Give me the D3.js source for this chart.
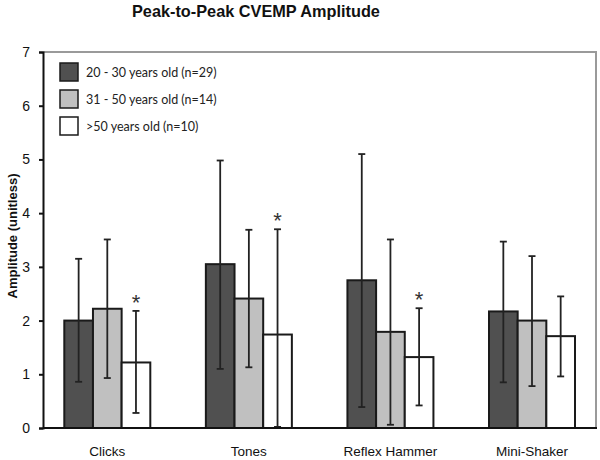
<!DOCTYPE html>
<html><head><meta charset="utf-8">
<script src="https://cdn.jsdelivr.net/npm/d3@7"></script>
<style>body{margin:0;background:#fff}svg{display:block}</style>
</head><body>
<script>
const categories = ["Clicks", "Tones", "Reflex Hammer", "Mini-Shaker"];
const seriesNames = ["20 - 30 years old (n=29)", "31 - 50 years old (n=14)", ">50 years old (n=10)"];
const means20 = [2.00, 3.05, 2.75, 2.17];
const means31 = [2.22, 2.41, 1.79, 2.00];
const means50 = [1.22, 1.74, 1.32, 1.71];
const low20 = [0.86, 1.10, 0.39, 0.85];
const high20 = [3.15, 4.98, 5.10, 3.47];
const low31 = [0.93, 1.13, 0.06, 0.78];
const high31 = [3.51, 3.69, 3.51, 3.20];
const low50 = [0.28, 0.02, 0.42, 0.96];
const high50 = [2.18, 3.70, 2.23, 2.45];
const significant50 = [true, true, true, false];
const yTicks = [0, 1, 2, 3, 4, 5, 6, 7];
const colors = ["#505050", "#c0c0c0", "#ffffff"];

const means = [means20, means31, means50];
const lows = [low20, low31, low50];
const highs = [high20, high31, high50];

const W = 600, H = 460;
const svg = d3.select("body").append("svg").attr("width", W).attr("height", H);

const y = d3.scaleLinear().domain([0, 7]).range([428, 52]);
const x = d3.scalePoint().domain(categories).range([107.3, 532]);
const xs = d3.scaleBand().domain(d3.range(3)).range([-43, 43]);

// frame (top and right)
svg.append("path").attr("d", `M43,${y(7)}H596V${y(0)}`).attr("fill", "none")
  .attr("stroke", "#9a9a9a").attr("stroke-width", 2);

// title
svg.append("text").attr("x", 132).attr("y", 17).attr("font-family", "Liberation Sans, Arial, sans-serif")
  .attr("font-weight", "bold").attr("font-size", 16.3).attr("fill", "#111").text("Peak-to-Peak CVEMP Amplitude");

// y axis
const ya = svg.append("g").attr("transform", "translate(43,0)")
  .call(d3.axisLeft(y).tickValues(yTicks).tickSize(4).tickPadding(9).tickFormat(d3.format("d")));
ya.select(".domain").attr("stroke", "#111").attr("stroke-width", 2);
ya.selectAll(".tick line").attr("stroke", "#111").attr("stroke-width", 2);
ya.selectAll(".tick text").attr("font-family", "Liberation Sans, Arial, sans-serif").attr("font-size", 14).attr("fill", "#111");

svg.append("text").attr("transform", "translate(17,236) rotate(-90)").attr("text-anchor", "middle")
  .attr("font-family", "Liberation Sans, Arial, sans-serif").attr("font-weight", "bold").attr("font-size", 13)
  .attr("fill", "#111").text("Amplitude (unitless)");

// bars
categories.forEach((c, i) => {
  const g = svg.append("g").attr("transform", `translate(${x(c)},0)`);
  for (let s = 0; s < 3; s++) {
    g.append("rect").attr("x", xs(s)).attr("width", xs.bandwidth())
      .attr("y", y(means[s][i])).attr("height", y(0) - y(means[s][i]))
      .attr("fill", colors[s]).attr("stroke", "#1a1a1a").attr("stroke-width", 2);
  }
  for (let s = 0; s < 3; s++) {
    const cx = xs(s) + xs.bandwidth() / 2;
    const e = g.append("g").attr("stroke", "#222").attr("stroke-width", 1.8);
    e.append("line").attr("x1", cx).attr("x2", cx).attr("y1", y(lows[s][i])).attr("y2", y(highs[s][i]));
    e.append("line").attr("x1", cx - 3.5).attr("x2", cx + 3.5).attr("y1", y(lows[s][i])).attr("y2", y(lows[s][i]));
    e.append("line").attr("x1", cx - 3.5).attr("x2", cx + 3.5).attr("y1", y(highs[s][i])).attr("y2", y(highs[s][i]));
  }
  if (significant50[i]) {
    const cx = xs(2) + xs.bandwidth() / 2;
    g.append("text").attr("x", cx).attr("y", y(high50[i]) - 1).attr("text-anchor", "middle")
      .attr("font-family", "Liberation Sans, Arial, sans-serif").attr("font-size", 22).attr("fill", "#333").text("*");
  }
});

// x axis
svg.append("line").attr("x1", 43).attr("x2", 597).attr("y1", y(0)).attr("y2", y(0))
  .attr("stroke", "#111").attr("stroke-width", 2);
svg.append("g").selectAll("text").data(categories).join("text")
  .attr("x", d => x(d)).attr("y", 456).attr("text-anchor", "middle")
  .attr("font-family", "Liberation Sans, Arial, sans-serif").attr("font-size", 13.5).attr("fill", "#111").text(d => d);

// legend
const lg = svg.append("g");
seriesNames.forEach((n, s) => {
  lg.append("rect").attr("x", 60).attr("y", 63 + s * 27).attr("width", 18).attr("height", 18)
    .attr("fill", colors[s]).attr("stroke", "#1a1a1a").attr("stroke-width", 1.5);
  lg.append("text").attr("x", 86).attr("y", 76.5 + s * 27).attr("font-family", "Lato, sans-serif")
    .attr("font-size", 12.5).attr("fill", "#222").text(n);
});
</script>
</body></html>
